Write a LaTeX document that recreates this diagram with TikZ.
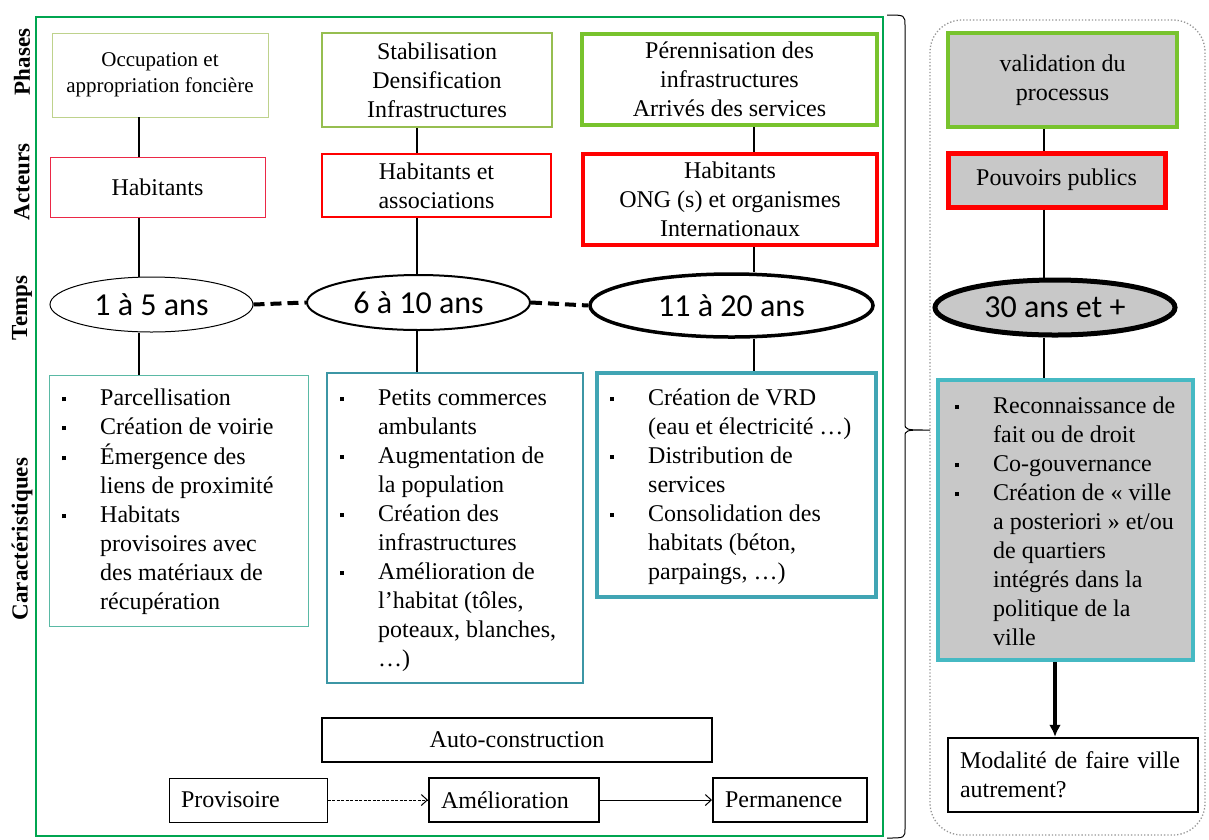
\documentclass[tikz,border=0pt]{standalone}
\usepackage{fontspec}
\setmainfont{Liberation Serif}
\newfontfamily\calib{Carlito}
\usetikzlibrary{shapes.geometric,arrows.meta}
\definecolor{frgreen}{RGB}{0,165,80}
\definecolor{phA}{RGB}{190,210,140}
\definecolor{phB}{RGB}{150,190,80}
\definecolor{phC}{RGB}{120,195,45}
\definecolor{acA}{RGB}{235,40,70}
\definecolor{acB}{RGB}{255,0,0}
\definecolor{tealA}{RGB}{90,185,165}
\definecolor{tealB}{RGB}{60,150,165}
\definecolor{tealC}{RGB}{65,165,180}
\definecolor{tealD}{RGB}{70,185,195}
\definecolor{greyfill}{RGB}{200,200,200}
\definecolor{dotgrey}{RGB}{150,150,150}
\newcommand{\sqb}{\rule[4.5pt]{3.5pt}{4pt}}
\newcommand{\bitem}[1]{\par\noindent\hangindent=38pt\hangafter=1\makebox[38pt][l]{\sqb}\strut#1}
\newcommand{\blist}[1]{\begin{minipage}{300pt}\fontsize{24}{29}\selectfont\raggedright#1\end{minipage}}
\tikzset{
  box/.style={draw, rectangle, inner sep=0pt, align=center, font=\fontsize{24}{29}\selectfont},
  ell/.style={draw, ellipse, inner sep=0pt, font=\calib\fontsize{32}{38}\selectfont},
  conn/.style={line width=2.5pt},
  sidelab/.style={rotate=90, font=\bfseries\fontsize{23}{27}\selectfont},
  leftbox/.style={draw, rectangle, inner xsep=12pt, inner ysep=0pt, align=left, font=\fontsize{24}{29}\selectfont},
  listtext/.style={anchor=north west, inner sep=0pt},
  timedash/.style={line width=4pt, dash pattern=on 11pt off 6pt},
}
\begin{document}
\begin{tikzpicture}[x=1pt,y=-1pt]
\useasboundingbox (0,0) rectangle (1209,839);
% frames
\draw[frgreen, line width=2pt] (36,17) rectangle (883,836);
\draw[line width=1pt] (887,15) .. controls (905,15) .. (905,26) -- (905,423) .. controls (905,430) .. (930,430)
  .. controls (905,430) .. (905,437) -- (905,828) .. controls (905,838) .. (887,838);
\draw[dotgrey, line width=1.3pt, dotted, rounded corners=32pt] (930,20) rectangle (1205,835);
% side labels
\node[sidelab] (lph) at (22,62) {Phases};
\node[sidelab] (lac) at (22,182) {Acteurs};
\node[sidelab] (lte) at (22,308) {Temps};
\node[sidelab] (lca) at (22,539) {Caractéristiques};
% phases
\node[box, draw=phA, line width=0.8pt, minimum width=216pt, minimum height=84pt, font=\fontsize{21}{26}\selectfont] (p1) at (160,75) {Occupation et\\appropriation foncière};
\node[box, draw=phB, line width=2pt, minimum width=230pt, minimum height=94pt] (p2) at (437,80) {Stabilisation\\Densification\\Infrastructures};
\node[box, draw=phC, line width=3.5pt, minimum width=295pt, minimum height=91pt] (p3) at (729.5,79.5) {Pérennisation des\\infrastructures\\Arrivés des services};
\node[box, draw=phC, fill=greyfill, line width=3.5pt, minimum width=229pt, minimum height=94pt] (p4) at (1062.5,80) {validation du\\processus};
% actors
\node[box, draw=acA, line width=1pt, minimum width=215pt, minimum height=60pt] (a1) at (157.5,187) {Habitants};
\node[box, draw=acB, line width=2.5pt, minimum width=229pt, minimum height=63pt] (a2) at (436.5,185.5) {Habitants et\\associations};
\node[box, draw=acB, line width=3.5pt, minimum width=294pt, minimum height=91pt] (a3) at (730,199.5) {Habitants\\ONG (s) et organismes\\Internationaux};
\node[box, draw=acB, fill=greyfill, line width=5pt, minimum width=217pt, minimum height=54pt] (a4) at (1056.5,180) {Pouvoirs publics};
% times
\node[ell, line width=1pt, minimum width=203pt, minimum height=55pt] (e1) at (151.5,304.5) {1 à 5 ans};
\node[ell, line width=2pt, minimum width=223pt, minimum height=55pt] (e2) at (418.5,302.5) {6 à 10 ans};
\node[ell, line width=3.5pt, minimum width=283pt, minimum height=63pt] (e3) at (731.5,305.5) {11 à 20 ans};
\node[ell, fill=greyfill, line width=5pt, minimum width=240pt, minimum height=55pt] (e4) at (1055,307.5) {30 ans et +};
% characteristics boxes
\node[box, draw=tealA, line width=1pt, minimum width=259pt, minimum height=251pt] (c1) at (178.5,500.5) {};
\node[box, draw=tealB, line width=2pt, minimum width=256pt, minimum height=310pt] (c2) at (455,528) {};
\node[box, draw=tealC, line width=3.5pt, minimum width=279pt, minimum height=224pt] (c3) at (736.5,485) {};
\node[box, draw=tealD, fill=greyfill, line width=4.5pt, minimum width=255pt, minimum height=280pt] (c4) at (1065.5,520) {};
\node[listtext] (c1t) at (62,385) {\blist{%
\bitem{Parcellisation}
\bitem{Création de voirie}
\bitem{Émergence des\newline liens de proximité}
\bitem{Habitats\newline provisoires avec\newline des matériaux de\newline récupération}}};
\node[listtext] (c2t) at (340,385) {\blist{%
\bitem{Petits commerces\newline ambulants}
\bitem{Augmentation de\newline la population}
\bitem{Création des\newline infrastructures}
\bitem{Amélioration de\newline l’habitat (tôles,\newline poteaux, blanches,\newline …)}}};
\node[listtext] (c3t) at (610,385) {\blist{%
\bitem{Création de VRD\newline (eau et électricité …)}
\bitem{Distribution de\newline services}
\bitem{Consolidation des\newline habitats (béton,\newline parpaings, …)}}};
\node[listtext] (c4t) at (955,393) {\blist{%
\bitem{Reconnaissance de\newline fait ou de droit}
\bitem{Co-gouvernance}
\bitem{Création de « ville\newline a posteriori » et/ou\newline de quartiers\newline intégrés dans la\newline politique de la\newline ville}}};
% final box
\node[leftbox, line width=2.5pt, text width=226pt, minimum height=74pt] (m) at (1073,775) {Modalité de faire ville\\autrement?};
% bottom row
\node[box, line width=2pt, minimum width=390pt, minimum height=44pt] (auto) at (517,740) {Auto-construction};
\node[leftbox, line width=1pt, text width=134pt, minimum height=44pt] (prov) at (248,800) {Provisoire};
\node[leftbox, line width=2pt, text width=146pt, minimum height=44pt] (amel) at (514,800) {Amélioration};
\node[leftbox, line width=2pt, text width=130pt, minimum height=44pt] (perm) at (790,800) {Permanence};
% connector x positions
\coordinate (x1) at (139,0);
\coordinate (x2) at (417,0);
\coordinate (x3) at (754,0);
\coordinate (x4) at (1044,0);
\coordinate (xa) at (1055,0);
\foreach \i in {1,2,3,4}{
  \draw[conn] (p\i.south -| x\i) -- (a\i.north -| x\i);
  \draw[conn] (a\i.south -| x\i) -- (e\i.north -| x\i);
  \draw[conn] (e\i.south -| x\i) -- (c\i.north -| x\i);
}
\draw[timedash] (e1.east) -- (e2.west);
\draw[timedash] (e2.east) -- (e3.west);
\draw[line width=3.5pt, -{Latex[length=12pt,width=12pt]}] (c4.south -| xa) -- (m.north -| xa);
\draw[line width=1pt, dash pattern=on 3pt off 1.5pt, -{Straight Barb[length=6pt,width=11pt]}] (prov.east) -- (amel.west);
\draw[line width=1pt, -{Straight Barb[length=6pt,width=11pt]}] (amel.east) -- (perm.west);
\end{tikzpicture}
\end{document}
